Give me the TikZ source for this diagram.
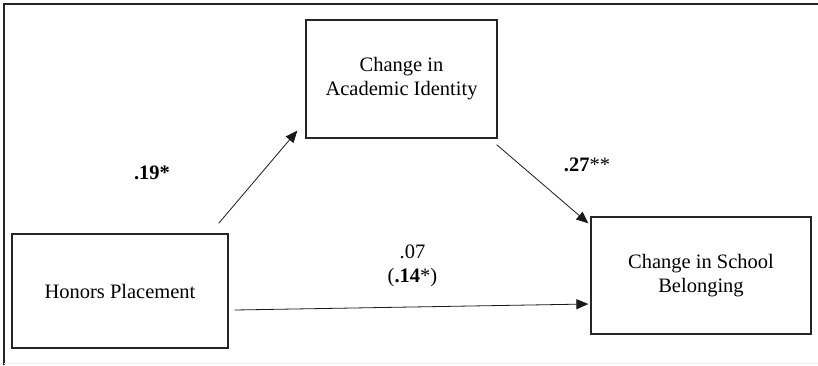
\documentclass[tikz,border=0pt]{standalone}
\usepackage{fontspec}
\setmainfont{Liberation Serif}
\usetikzlibrary{arrows.meta}

\tikzset{
    varbox/.style={draw=black!85, line width=1.3pt, inner sep=0pt, align=center},
    effect/.style={-{Triangle[length=12pt,width=10pt]}, black!90, line width=0.8pt},
    coef/.style={align=center, inner sep=1pt}
}

\begin{document}
\begin{tikzpicture}[x=1pt, y=-1pt, font=\fontsize{20.5}{24}\selectfont]

    \useasboundingbox (0,0) rectangle (818,365);
    \draw[black!85, line width=1.3pt] (4,365) -- (4,4) -- (818,4);
    \draw[black!8, line width=1pt] (4,363) -- (818,363);

    \node[varbox, minimum width=216pt, minimum height=114pt] (hon) at (120,291)   {Honors Placement};
    \node[varbox, minimum width=191pt, minimum height=118pt] (aca) at (401.5,79)  {Change in\\Academic Identity};
    \node[varbox, minimum width=220pt, minimum height=117pt] (sch) at (701,275.5) {Change in School\\Belonging};

    \draw[effect] ([xshift=-10pt,yshift=10pt]hon.north east) -- ([xshift=-8pt,yshift=8pt]aca.south west);
    \draw[effect] ([xshift=-1pt,yshift=-6pt]aca.south east)  -- ([xshift=-2pt,yshift=-7pt]sch.north west);
    \draw[effect] ([xshift=6pt,yshift=-19pt]hon.east)        -- ([xshift=-2pt,yshift=-28.5pt]sch.west);

    \node[coef] (ahon) at (152,173)     {\textbf{.19*}};
    \node[coef] (bsch) at (587,165)     {\textbf{.27}**};
    \node[coef] (cdir) at (412.5,265.5) {.07\\(\textbf{.14}*)};

\end{tikzpicture}
\end{document}
